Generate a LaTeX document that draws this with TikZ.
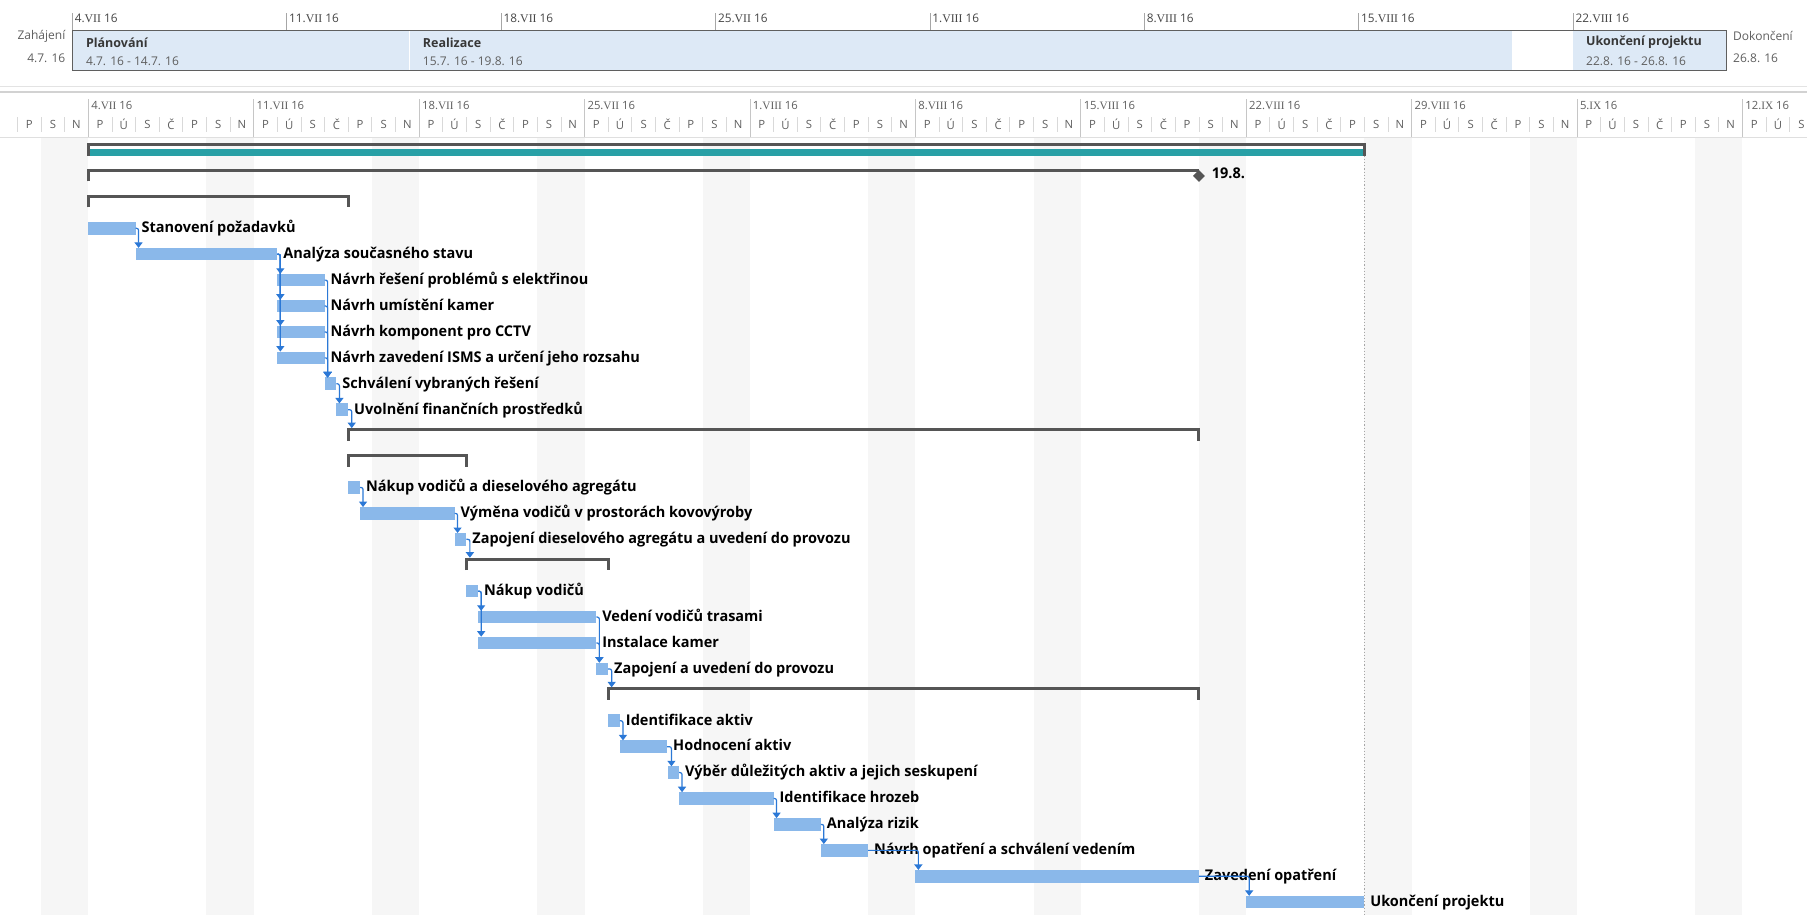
\documentclass[tikz,border=0pt]{standalone}
\usepackage{fontspec}
\usepackage{graphicx}
\setmainfont{Open Sans}
\newfontfamily\romfont{Liberation Serif}
\usetikzlibrary{arrows.meta,shapes.geometric}
\definecolor{barblue}{RGB}{138,184,234}
\definecolor{lnkblue}{RGB}{43,120,214}
\definecolor{sumgray}{RGB}{85,85,85}
\definecolor{tealbar}{RGB}{40,160,166}
\definecolor{wkgray}{RGB}{246,246,246}
\definecolor{hdrfill}{RGB}{221,233,246}
\definecolor{hdrline}{RGB}{95,95,95}
\definecolor{hdrtext}{RGB}{55,55,55}
\definecolor{tsgray}{RGB}{95,95,95}
\definecolor{tickgray}{RGB}{70,70,70}
\newsavebox\refbox
\newlength\reflen
\newcommand\lblfont{\fontsize{14.8}{16}\selectfont\bfseries}
\newcommand\hbfont{\fontsize{12.5}{14}\selectfont\bfseries}
\newcommand\hrfont{\fontsize{12}{14}\selectfont}
\newcommand\tsfont{\fontsize{11.3}{13}\selectfont}
\newcommand\htfont{\fontsize{11.8}{13}\selectfont}
\newcommand\rom[1]{{\romfont #1}}
\def\xo{88.3}\def\dw{23.63}\def\yo{150.5}\def\rh{25.92}
\newcommand\Task[5]{%
  \node[bar, anchor=west, minimum width={(#4-(#3))*\dw*1pt}] (#1) at ({\xo+(#3)*\dw},{\yo+(#2)*\rh}) {};
  \node[lbl, anchor=base west] (#1t) at ([xshift=6pt,yshift=-4.3pt]#1.east) {\scalebox{\lfac}[1]{#5}};}
\newcommand\Summ[4]{%
  \node[sumbox, anchor=north west, minimum width={(#4-(#3))*\dw*1pt}] (#1) at ({\xo+(#3)*\dw},{\yo+(#2)*\rh-6}) {};
  \draw[brk] (#1.south west) |- (#1.north east) -- (#1.south east);}
\newcommand\Lk[2]{\draw[lnk] (#1.east) -| ([xshift=3pt]#2.north west);}
\newcommand\LkS[2]{\draw[lnk] (#1.east) -| ([xshift=3.5pt,yshift=1.5pt]#2.north west);}
\begin{document}
\sbox\refbox{\lblfont Ukončení projektu}\setlength\reflen{\wd\refbox}\pgfmathsetmacro\lfac{134/\reflen}%
\begin{tikzpicture}[x=1pt,y=-1pt,
  bar/.style={rectangle, fill=barblue, draw=none, minimum height=12.6pt, inner sep=0pt, outer sep=0pt},
  lbl/.style={inner sep=0pt, outer sep=0pt, text=black, font=\lblfont},
  lnk/.style={draw=lnkblue, line width=1.2pt, rounded corners=2pt, -{Triangle[width=8pt,length=5.5pt]}},
  sumbox/.style={rectangle, inner sep=0pt, outer sep=0pt, minimum height=11pt, draw=none},
  brk/.style={draw=sumgray, line width=3pt},
  hseg/.style={rectangle, anchor=north west, fill=hdrfill, draw=none, minimum height=40pt, inner sep=0pt, outer sep=0pt},
  htxt/.style={inner sep=0pt, outer sep=0pt, anchor=west},
  ts/.style={inner sep=0pt, outer sep=0pt, font=\tsfont, text=tsgray}]
\useasboundingbox (0,0) rectangle (1807,914);
\fill[white] (0,0) rectangle (1807,914);
% ---------- weekend shading
\foreach \k in {-2,5,...,68} \fill[wkgray] ({\xo+\k*\dw},137.5) rectangle ++({2*\dw},777);
% ---------- top timeline
\foreach \w/\d/\r in {0/4/VII,1/11/VII,2/18/VII,3/25/VII,4/1/VIII,5/8/VIII,6/15/VIII,7/22/VIII} {
  \draw[gray!70, line width=0.8pt] ({72.3+214.4*\w},13) -- ({72.3+214.4*\w},30.7);
  \node[inner sep=0pt, outer sep=0pt, font=\htfont, text=tickgray, anchor=west] (ht\w) at ({72.3+214.4*\w+2.5},18) {\d.\rom{\r} 16};
}
\node[hseg, minimum width=336.9pt] (hplan) at (72.3,30.7) {};
\node[hseg, minimum width=1102.7pt] (hreal) at (409.2,30.7) {};
\node[hseg, minimum width=153.1pt] (hend) at (1573.2,30.7) {};
\draw[white, line width=1pt] (hreal.north west) -- (hreal.south west);
\node[rectangle, draw=hdrline, line width=1.3pt, anchor=north west, minimum width=1654pt, minimum height=40pt, inner sep=0pt, outer sep=0pt] (hbox) at (72.3,30.7) {};
\node[htxt, font=\hbfont, text=hdrtext] (tplan) at ([xshift=13.7pt,yshift=-12pt]hplan.north west) {Plánování};
\node[htxt, font=\hrfont, text=tsgray] (dplan) at ([xshift=13.7pt,yshift=-30.5pt]hplan.north west) {4.7. 16 - 14.7. 16};
\node[htxt, font=\hbfont, text=hdrtext] (treal) at ([xshift=13.7pt,yshift=-12pt]hreal.north west) {Realizace};
\node[htxt, font=\hrfont, text=tsgray] (dreal) at ([xshift=13.7pt,yshift=-30.5pt]hreal.north west) {15.7. 16 - 19.8. 16};
\node[htxt, font=\hbfont, text=hdrtext] (tend) at ([xshift=13pt,yshift=-12pt]hend.north west) {Ukončení projektu};
\node[htxt, font=\hrfont, text=tsgray] (dend) at ([xshift=13pt,yshift=-30.5pt]hend.north west) {22.8. 16 - 26.8. 16};
\node[inner sep=0pt, anchor=east, font=\hrfont, text=tsgray] (zah) at (65.5,36) {Zahájení};
\node[inner sep=0pt, anchor=east, font=\hrfont, text=tsgray] (zahd) at (65.5,58) {4.7. 16};
\node[inner sep=0pt, anchor=west, font=\hrfont, text=tsgray] (dok) at (1733,36) {Dokončení};
\node[inner sep=0pt, anchor=west, font=\hrfont, text=tsgray] (dokd) at (1733,58) {26.8. 16};
% ---------- bottom timescale
\draw[gray!22, line width=1.2pt] (0,86.5) -- (1807,86.5);
\draw[gray!35, line width=2pt] (0,91.8) -- (1807,91.8);
\draw[gray!25, line width=1pt] (0,137) -- (1807,137);
\foreach \k in {-3,...,72} {
  \pgfmathtruncatemacro\m{mod(\k+700,7)}
  \ifnum\m=0
    \draw[gray!45, line width=0.8pt] ({\xo+\k*\dw},99) -- ({\xo+\k*\dw},137);
  \else
    \draw[gray!30, line width=0.8pt] ({\xo+\k*\dw},117) -- ({\xo+\k*\dw},132);
  \fi
  \node[ts] (dl\k) at ({\xo+(\k+0.5)*\dw},124.5) {\ifcase\m P\or Ú\or S\or Č\or P\or S\or N\fi};
}
\foreach \k/\d/\r in {0/4/VII,7/11/VII,14/18/VII,21/25/VII,28/1/VIII,35/8/VIII,42/15/VIII,49/22/VIII,56/29/VIII,63/5/IX,70/12/IX}
  \node[ts, anchor=west] (wl\k) at ({\xo+\k*\dw+3},105.5) {\d.\rom{\r} 16};
% ---------- project summary
\node[sumbox, anchor=north west, minimum width={54*\dw*1pt}] (s0) at (\xo,{\yo-6}) {};
\draw[brk] (s0.south west) |- (s0.north east) -- (s0.south east);
\node[rectangle, fill=tealbar, inner sep=0pt, outer sep=0pt, anchor=south west, minimum height=7pt, minimum width={54*\dw*1pt-3pt}] (teal) at ([xshift=1.5pt]s0.south west) {};
\draw[gray!70, line width=0.8pt, dash pattern=on 1.2pt off 2pt] (s0.south east) -- ({\xo+54*\dw},914);
% row 1
\node[sumbox, anchor=north west, minimum width={47*\dw*1pt}] (s1) at (\xo,{\yo+\rh-6}) {};
\draw[brk] (s1.south west) |- (s1.north east);
\node[diamond, fill=sumgray, inner sep=0pt, minimum size=12pt] (ms) at ({\xo+47*\dw},{\yo+\rh-0.5}) {};
\node[lbl, anchor=base west] (mst) at ([xshift=13pt,yshift=-3pt]ms.center) {\scalebox{\lfac}[1]{19.8.}};
% ---------- tasks
\Summ{s2}{2}{0}{11}
\Task{t3}{3}{0}{2}{Stanovení požadavků}
\Task{t4}{4}{2}{8}{Analýza současného stavu}
\Task{t5}{5}{8}{10}{Návrh řešení problémů s elektřinou}
\Task{t6}{6}{8}{10}{Návrh umístění kamer}
\Task{t7}{7}{8}{10}{Návrh komponent pro CCTV}
\Task{t8}{8}{8}{10}{Návrh zavedení ISMS a určení jeho rozsahu}
\Task{t9}{9}{10}{10.5}{Schválení vybraných řešení}
\Task{t10}{10}{10.5}{11}{Uvolnění finančních prostředků}
\Summ{s11}{11}{11}{47}
\Summ{s12}{12}{11}{16}
\Task{t13}{13}{11}{11.5}{Nákup vodičů a dieselového agregátu}
\Task{t14}{14}{11.5}{15.5}{Výměna vodičů v prostorách kovovýroby}
\Task{t15}{15}{15.5}{16}{Zapojení dieselového agregátu a uvedení do provozu}
\Summ{s16}{16}{16}{22}
\Task{t17}{17}{16}{16.5}{Nákup vodičů}
\Task{t18}{18}{16.5}{21.5}{Vedení vodičů trasami}
\Task{t19}{19}{16.5}{21.5}{Instalace kamer}
\Task{t20}{20}{21.5}{22}{Zapojení a uvedení do provozu}
\Summ{s21}{21}{22}{47}
\Task{t22}{22}{22}{22.5}{Identifikace aktiv}
\Task{t23}{23}{22.5}{24.5}{Hodnocení aktiv}
\Task{t24}{24}{24.55}{25}{Výběr důležitých aktiv a jejich seskupení}
\Task{t25}{25}{25}{29}{Identifikace hrozeb}
\Task{t26}{26}{29}{31}{Analýza rizik}
\Task{t27}{27}{31}{33}{Návrh opatření a schválení vedením}
\Task{t28}{28}{35}{47}{Zavedení opatření}
\Task{t29}{29}{49}{54}{Ukončení projektu}
% ---------- links
\Lk{t3}{t4}
\Lk{t4}{t5}\Lk{t4}{t6}\Lk{t4}{t7}\Lk{t4}{t8}
\Lk{t5}{t9}\Lk{t6}{t9}\Lk{t7}{t9}\Lk{t8}{t9}
\Lk{t9}{t10}
\LkS{t10}{s11}
\Lk{t13}{t14}\Lk{t14}{t15}
\LkS{t15}{s16}
\Lk{t17}{t18}\Lk{t17}{t19}
\Lk{t18}{t20}\Lk{t19}{t20}
\LkS{t20}{s21}
\Lk{t22}{t23}\Lk{t23}{t24}\Lk{t24}{t25}\Lk{t25}{t26}\Lk{t26}{t27}\Lk{t27}{t28}\Lk{t28}{t29}
\end{tikzpicture}
\end{document}
